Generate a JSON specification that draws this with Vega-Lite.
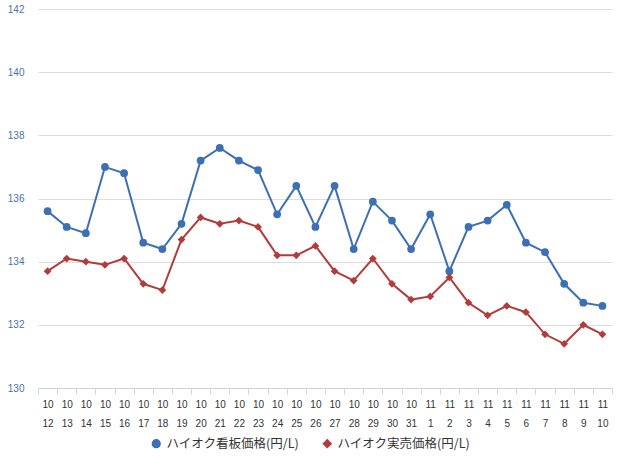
{
  "$schema": "https://vega.github.io/schema/vega-lite/v6.json",
  "autosize": {"type": "none"},
  "padding": {"left": 38, "top": 9, "right": 28, "bottom": 77},
  "width": 574,
  "height": 379,
  "background": "white",
  "config": {
    "view": {"stroke": null},
    "font": "Liberation Sans"
  },
  "data": {
    "values": [
      {"d": "10/12", "s": "ハイオク看板価格(円/L)", "v": 135.6},
      {"d": "10/13", "s": "ハイオク看板価格(円/L)", "v": 135.1},
      {"d": "10/14", "s": "ハイオク看板価格(円/L)", "v": 134.9},
      {"d": "10/15", "s": "ハイオク看板価格(円/L)", "v": 137.0},
      {"d": "10/16", "s": "ハイオク看板価格(円/L)", "v": 136.8},
      {"d": "10/17", "s": "ハイオク看板価格(円/L)", "v": 134.6},
      {"d": "10/18", "s": "ハイオク看板価格(円/L)", "v": 134.4},
      {"d": "10/19", "s": "ハイオク看板価格(円/L)", "v": 135.2},
      {"d": "10/20", "s": "ハイオク看板価格(円/L)", "v": 137.2},
      {"d": "10/21", "s": "ハイオク看板価格(円/L)", "v": 137.6},
      {"d": "10/22", "s": "ハイオク看板価格(円/L)", "v": 137.2},
      {"d": "10/23", "s": "ハイオク看板価格(円/L)", "v": 136.9},
      {"d": "10/24", "s": "ハイオク看板価格(円/L)", "v": 135.5},
      {"d": "10/25", "s": "ハイオク看板価格(円/L)", "v": 136.4},
      {"d": "10/26", "s": "ハイオク看板価格(円/L)", "v": 135.1},
      {"d": "10/27", "s": "ハイオク看板価格(円/L)", "v": 136.4},
      {"d": "10/28", "s": "ハイオク看板価格(円/L)", "v": 134.4},
      {"d": "10/29", "s": "ハイオク看板価格(円/L)", "v": 135.9},
      {"d": "10/30", "s": "ハイオク看板価格(円/L)", "v": 135.3},
      {"d": "10/31", "s": "ハイオク看板価格(円/L)", "v": 134.4},
      {"d": "11/1", "s": "ハイオク看板価格(円/L)", "v": 135.5},
      {"d": "11/2", "s": "ハイオク看板価格(円/L)", "v": 133.7},
      {"d": "11/3", "s": "ハイオク看板価格(円/L)", "v": 135.1},
      {"d": "11/4", "s": "ハイオク看板価格(円/L)", "v": 135.3},
      {"d": "11/5", "s": "ハイオク看板価格(円/L)", "v": 135.8},
      {"d": "11/6", "s": "ハイオク看板価格(円/L)", "v": 134.6},
      {"d": "11/7", "s": "ハイオク看板価格(円/L)", "v": 134.3},
      {"d": "11/8", "s": "ハイオク看板価格(円/L)", "v": 133.3},
      {"d": "11/9", "s": "ハイオク看板価格(円/L)", "v": 132.7},
      {"d": "11/10", "s": "ハイオク看板価格(円/L)", "v": 132.6},
      {"d": "10/12", "s": "ハイオク実売価格(円/L)", "v": 133.7},
      {"d": "10/13", "s": "ハイオク実売価格(円/L)", "v": 134.1},
      {"d": "10/14", "s": "ハイオク実売価格(円/L)", "v": 134.0},
      {"d": "10/15", "s": "ハイオク実売価格(円/L)", "v": 133.9},
      {"d": "10/16", "s": "ハイオク実売価格(円/L)", "v": 134.1},
      {"d": "10/17", "s": "ハイオク実売価格(円/L)", "v": 133.3},
      {"d": "10/18", "s": "ハイオク実売価格(円/L)", "v": 133.1},
      {"d": "10/19", "s": "ハイオク実売価格(円/L)", "v": 134.7},
      {"d": "10/20", "s": "ハイオク実売価格(円/L)", "v": 135.4},
      {"d": "10/21", "s": "ハイオク実売価格(円/L)", "v": 135.2},
      {"d": "10/22", "s": "ハイオク実売価格(円/L)", "v": 135.3},
      {"d": "10/23", "s": "ハイオク実売価格(円/L)", "v": 135.1},
      {"d": "10/24", "s": "ハイオク実売価格(円/L)", "v": 134.2},
      {"d": "10/25", "s": "ハイオク実売価格(円/L)", "v": 134.2},
      {"d": "10/26", "s": "ハイオク実売価格(円/L)", "v": 134.5},
      {"d": "10/27", "s": "ハイオク実売価格(円/L)", "v": 133.7},
      {"d": "10/28", "s": "ハイオク実売価格(円/L)", "v": 133.4},
      {"d": "10/29", "s": "ハイオク実売価格(円/L)", "v": 134.1},
      {"d": "10/30", "s": "ハイオク実売価格(円/L)", "v": 133.3},
      {"d": "10/31", "s": "ハイオク実売価格(円/L)", "v": 132.8},
      {"d": "11/1", "s": "ハイオク実売価格(円/L)", "v": 132.9},
      {"d": "11/2", "s": "ハイオク実売価格(円/L)", "v": 133.5},
      {"d": "11/3", "s": "ハイオク実売価格(円/L)", "v": 132.7},
      {"d": "11/4", "s": "ハイオク実売価格(円/L)", "v": 132.3},
      {"d": "11/5", "s": "ハイオク実売価格(円/L)", "v": 132.6},
      {"d": "11/6", "s": "ハイオク実売価格(円/L)", "v": 132.4},
      {"d": "11/7", "s": "ハイオク実売価格(円/L)", "v": 131.7},
      {"d": "11/8", "s": "ハイオク実売価格(円/L)", "v": 131.4},
      {"d": "11/9", "s": "ハイオク実売価格(円/L)", "v": 132.0},
      {"d": "11/10", "s": "ハイオク実売価格(円/L)", "v": 131.7}
    ]
  },
  "encoding": {
    "x": {
      "field": "d",
      "type": "nominal",
      "sort": null,
      "title": null,
      "scale": {"type": "band", "paddingInner": 0, "paddingOuter": 0},
      "axis": {
        "labelAngle": 0,
        "labelExpr": "isValid(datum.value) ? split(datum.value, '/') : ''",
        "labelFontSize": 10,
        "labelColor": "#333333",
        "labelLineHeight": 19,
        "labelPadding": 5,
        "tickBand": "extent",
        "tickSize": 6,
        "tickColor": "#c9d5e3",
        "domainColor": "#c9d5e3",
        "grid": false
      }
    },
    "y": {
      "field": "v",
      "type": "quantitative",
      "title": null,
      "scale": {"domain": [130, 142], "nice": false, "zero": false},
      "axis": {
        "values": [130, 132, 134, 136, 138, 140, 142],
        "ticks": false,
        "domain": false,
        "labelPadding": 14,
        "labelFontSize": 10,
        "labelColor": "#4d72a8",
        "gridColor": "#dddddd",
        "gridWidth": 1
      }
    },
    "color": {
      "field": "s",
      "type": "nominal",
      "title": null,
      "scale": {
        "domain": ["ハイオク看板価格(円/L)", "ハイオク実売価格(円/L)"],
        "range": ["#3d6fb3", "#b23b3b"]
      },
      "legend": {
        "orient": "none",
        "legendX": 112,
        "legendY": 428,
        "direction": "horizontal",
        "labelFont": "Noto Sans CJK JP",
        "labelFontSize": 12.5,
        "labelColor": "#333333",
        "columnPadding": 20,
        "symbolSize": 60
      }
    },
    "shape": {
      "field": "s",
      "type": "nominal",
      "scale": {
        "domain": ["ハイオク看板価格(円/L)", "ハイオク実売価格(円/L)"],
        "range": ["circle", "diamond"]
      },
      "legend": null
    }
  },
  "layer": [
    {"mark": {"type": "line", "strokeWidth": 2}},
    {"mark": {"type": "point", "filled": true, "size": 60, "opacity": 1}}
  ]
}
